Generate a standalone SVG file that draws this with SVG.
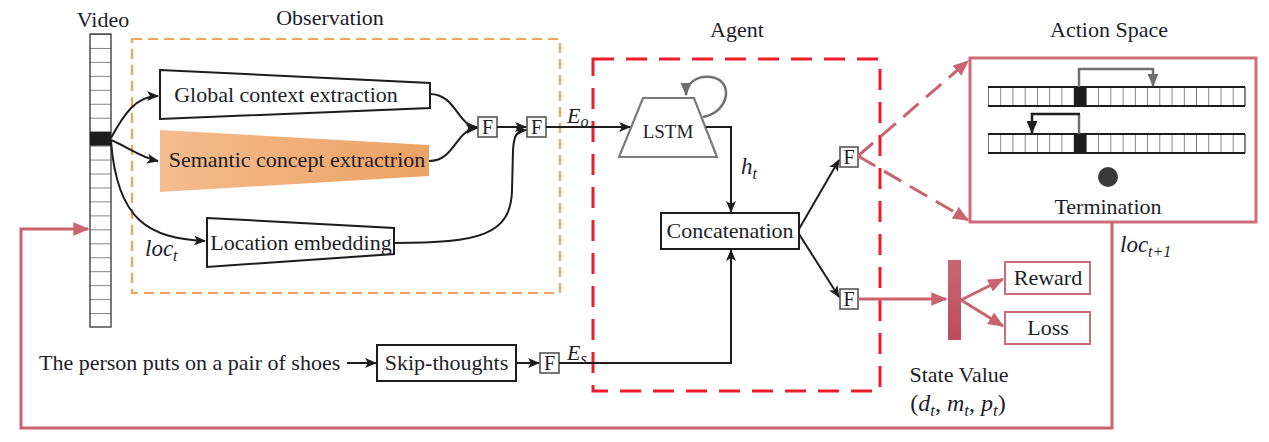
<svg xmlns="http://www.w3.org/2000/svg" width="1269" height="442" viewBox="0 0 1269 442">
<style>
text{font-family:"Liberation Serif","Times New Roman",serif;font-size:22px;fill:#1d1d28}
.c{text-anchor:middle}
.m{font-style:italic}
.blk{fill:none;stroke:#1d1d1d;stroke-width:2}
.gry{fill:none;stroke:#707070;stroke-width:2.5}
.pnk{fill:none;stroke:#c9636f;stroke-width:3}
.fb rect{fill:#fbfbfb;stroke:#555;stroke-width:1.6}
.fb text{font-size:20px;text-anchor:middle}
</style>
<defs>
<marker id="ab" viewBox="0 0 12 10" refX="11" refY="5" markerWidth="12" markerHeight="10" markerUnits="userSpaceOnUse" orient="auto"><path d="M0,0 L12,5 L0,10 L3,5 z" fill="#1d1d1d"/></marker>
<marker id="ag" viewBox="0 0 12 10" refX="11" refY="5" markerWidth="13" markerHeight="11" markerUnits="userSpaceOnUse" orient="auto"><path d="M0,0 L12,5 L0,10 z" fill="#6e6e6e"/></marker>
<marker id="ak" viewBox="0 0 12 10" refX="11" refY="5" markerWidth="13" markerHeight="11" markerUnits="userSpaceOnUse" orient="auto"><path d="M0,0 L12,5 L0,10 z" fill="#1d1d1d"/></marker>
<marker id="ap" viewBox="0 0 12 10" refX="11" refY="5" markerWidth="16" markerHeight="14" markerUnits="userSpaceOnUse" orient="auto"><path d="M0,0 L12,5 L0,10 z" fill="#c9636f"/></marker>
<linearGradient id="sem" x1="0" x2="1" y1="0" y2="0"><stop offset="0" stop-color="#f4bc8e"/><stop offset="1" stop-color="#eda265"/></linearGradient>
<linearGradient id="bar" x1="0" x2="0" y1="0" y2="1"><stop offset="0" stop-color="#c96773"/><stop offset="1" stop-color="#bb4c5a"/></linearGradient>
<pattern id="vcell" x="90" y="34" width="21" height="13.952" patternUnits="userSpaceOnUse"><line x1="0" y1="0" x2="21" y2="0" stroke="#333" stroke-width="1.2"/></pattern>
<pattern id="hcell" x="988" y="0" width="12.238" height="20" patternUnits="userSpaceOnUse"><line x1="0" y1="0" x2="0" y2="20" stroke="#333" stroke-width="1.2"/></pattern>
</defs>

<g id="observation">
<rect x="132" y="39" width="428" height="254" fill="none" stroke="#f4a25e" stroke-width="2.2" stroke-dasharray="10,6"/>
<text class="c" x="330" y="25">Observation</text>
</g>
<g id="agent">
<rect x="593" y="59" width="287" height="332" fill="none" stroke="#ec1c2a" stroke-width="3" stroke-dasharray="21,12"/>
<text class="c" x="737" y="37">Agent</text>
</g>

<g id="video">
<text class="c" x="103" y="27">Video</text>
<rect x="90" y="34" width="21" height="293" fill="url(#vcell)"/>
<rect x="90" y="34" width="21" height="293" fill="none" stroke="#333" stroke-width="1.3"/>
<rect x="90" y="131.7" width="21" height="14" fill="#1d1d1d"/>
</g>

<g id="global">
<polygon points="160,70 430,83 430,108 160,119" fill="#fff" stroke="#1d1d1d" stroke-width="2"/>
<text class="c" x="286" y="102">Global context extraction</text>
</g>
<g id="semantic">
<polygon points="160,130 429,145 429,176 160,192" fill="url(#sem)"/>
<text class="c" x="297" y="167">Semantic concept extractrion</text>
</g>
<g id="location">
<polygon points="207,218 394,228 394,254 207,267" fill="#fff" stroke="#1d1d1d" stroke-width="2"/>
<text class="c" x="301" y="250">Location embedding</text>
</g>

<g id="f1" class="fb"><rect x="478" y="117" width="19" height="20"/><text x="487.5" y="134">F</text></g>
<g id="f2" class="fb"><rect x="527" y="117" width="19" height="20"/><text x="536.5" y="134">F</text></g>
<g id="f3" class="fb"><rect x="540" y="353" width="19" height="20"/><text x="549.5" y="370">F</text></g>
<g id="f4" class="fb"><rect x="840" y="147" width="18" height="20"/><text x="849" y="164">F</text></g>
<g id="f5" class="fb"><rect x="840" y="289" width="18" height="20"/><text x="849" y="306">F</text></g>

<g id="lstm">
<polygon points="643,98 694,98 717,157 619,157" fill="#fff" stroke="#7a7a7a" stroke-width="2.2"/>
<text class="c" x="668" y="138" style="font-size:19px">LSTM</text>
</g>
<g id="concat">
<rect x="661" y="213" width="138" height="36" fill="#fff" stroke="#1d1d1d" stroke-width="2"/>
<text class="c" x="730" y="238">Concatenation</text>
</g>

<g id="sentence"><text x="39" y="370">The person puts on a pair of shoes</text></g>
<g id="skip">
<rect x="377" y="345" width="139" height="36" fill="#fff" stroke="#1d1d1d" stroke-width="2"/>
<text class="c" x="446.5" y="370">Skip-thoughts</text>
</g>

<g id="action">
<text class="c" x="1109" y="37">Action Space</text>
<rect x="970" y="58" width="286" height="164" fill="#fff" stroke="#cd6b76" stroke-width="3"/>
<rect x="988" y="87" width="257" height="19" fill="url(#hcell)"/>
<line x1="1245" y1="87" x2="1245" y2="106" stroke="#333" stroke-width="1.2"/>
<line x1="988" y1="87" x2="1245" y2="87" stroke="#1d1d1d" stroke-width="2.2"/>
<line x1="988" y1="106" x2="1245" y2="106" stroke="#1d1d1d" stroke-width="2.2"/>
<rect x="1074" y="87" width="12.2" height="19" fill="#1d1d1d"/>
<rect x="988" y="134" width="257" height="19" fill="url(#hcell)"/>
<line x1="1245" y1="134" x2="1245" y2="153" stroke="#333" stroke-width="1.2"/>
<line x1="988" y1="134" x2="1245" y2="134" stroke="#1d1d1d" stroke-width="2.2"/>
<line x1="988" y1="153" x2="1245" y2="153" stroke="#1d1d1d" stroke-width="2.2"/>
<rect x="1074" y="134" width="12.2" height="19" fill="#1d1d1d"/>
<path d="M1079,87 L1079,69 L1153,69 L1153,86" class="gry" marker-end="url(#ag)"/>
<path d="M1079,134 L1079,114" class="gry"/>
<path d="M1080,114 L1032,114 L1032,133" class="gry" style="stroke:#1d1d1d" marker-end="url(#ak)"/>
<circle cx="1108" cy="177" r="10" fill="#3a3a3a"/>
<text class="c" x="1108" y="214">Termination</text>
</g>

<g id="statevalue">
<rect x="948" y="260" width="13" height="80" fill="url(#bar)"/>
<text class="c" x="959" y="382">State Value</text>
<text class="c" x="958" y="411" style="font-size:24px">(<tspan class="m">d</tspan><tspan class="m" dy="5" font-size="17">t</tspan><tspan dy="-5">, </tspan><tspan class="m">m</tspan><tspan class="m" dy="5" font-size="17">t</tspan><tspan dy="-5">, </tspan><tspan class="m">p</tspan><tspan class="m" dy="5" font-size="17">t</tspan><tspan dy="-5">)</tspan></text>
</g>
<g id="reward">
<rect x="1005" y="262" width="85" height="32" fill="#fff" stroke="#cd6b76" stroke-width="2"/>
<text class="c" x="1048" y="285">Reward</text>
</g>
<g id="loss">
<rect x="1005" y="312" width="85" height="32" fill="#fff" stroke="#cd6b76" stroke-width="2"/>
<text class="c" x="1048" y="335">Loss</text>
</g>

<g id="connectors">
<path d="M111,138 C124,114 136,96 158,96" class="blk" marker-end="url(#ab)"/>
<path d="M111,140 C126,146 140,157 158,161" class="blk" marker-end="url(#ab)"/>
<path d="M111,141 C117,222 150,238 205,241" class="blk" marker-end="url(#ab)"/>
<path d="M430,94 C456,94 458,127 477,127" class="blk" marker-end="url(#ab)"/>
<path d="M429,161 C455,161 455,130 477,128" class="blk" marker-end="url(#ab)"/>
<path d="M497,127 L526,127" class="blk" marker-end="url(#ab)"/>
<path d="M394,243 C480,243 511,235 512,190 L513,150 C514,136 516,131 526,130" class="blk" marker-end="url(#ab)"/>
<path d="M546,127 L630,127" class="blk" marker-end="url(#ab)"/>
<path d="M706,127 L731,127 L731,212" class="blk" marker-end="url(#ab)"/>
<path d="M703,117 C730,112 734,80 711,77 C696,75 686,84 686,95" class="gry" marker-end="url(#ag)"/>
<path d="M347,363 L376,363" class="blk" marker-end="url(#ab)"/>
<path d="M516,363 L539,363" class="blk" marker-end="url(#ab)"/>
<path d="M559,363 L731,363 L731,250" class="blk" marker-end="url(#ab)"/>
<path d="M799,229 L839,160" class="blk" marker-end="url(#ab)"/>
<path d="M799,234 L839,297" class="blk" marker-end="url(#ab)"/>
<path d="M858,156 L968,61" class="pnk" stroke-dasharray="20,10" marker-end="url(#ap)"/>
<path d="M858,156 L968,220" class="pnk" stroke-dasharray="20,10" marker-end="url(#ap)"/>
<path d="M858,299 L946,299" class="pnk" marker-end="url(#ap)"/>
<path d="M961,300 L1003,279" class="pnk" marker-end="url(#ap)"/>
<path d="M961,300 L1003,326" class="pnk" marker-end="url(#ap)"/>
<path d="M1112,222 L1112,428 L21,428 L21,229 L88,229" class="pnk" marker-end="url(#ap)"/>
<text class="m" x="567" y="123">E<tspan dy="4" font-size="16">o</tspan></text>
<text class="m" x="567" y="360">E<tspan dy="4" font-size="16">s</tspan></text>
<text class="m" x="741" y="174" style="font-size:23px">h<tspan dy="5" font-size="16">t</tspan></text>
<text class="m" x="145" y="256" style="font-size:23px">loc<tspan dy="5" font-size="16">t</tspan></text>
<text class="m" x="1120" y="252" style="font-size:23px">loc<tspan dy="5" font-size="16">t+1</tspan></text>
</g>
</svg>
